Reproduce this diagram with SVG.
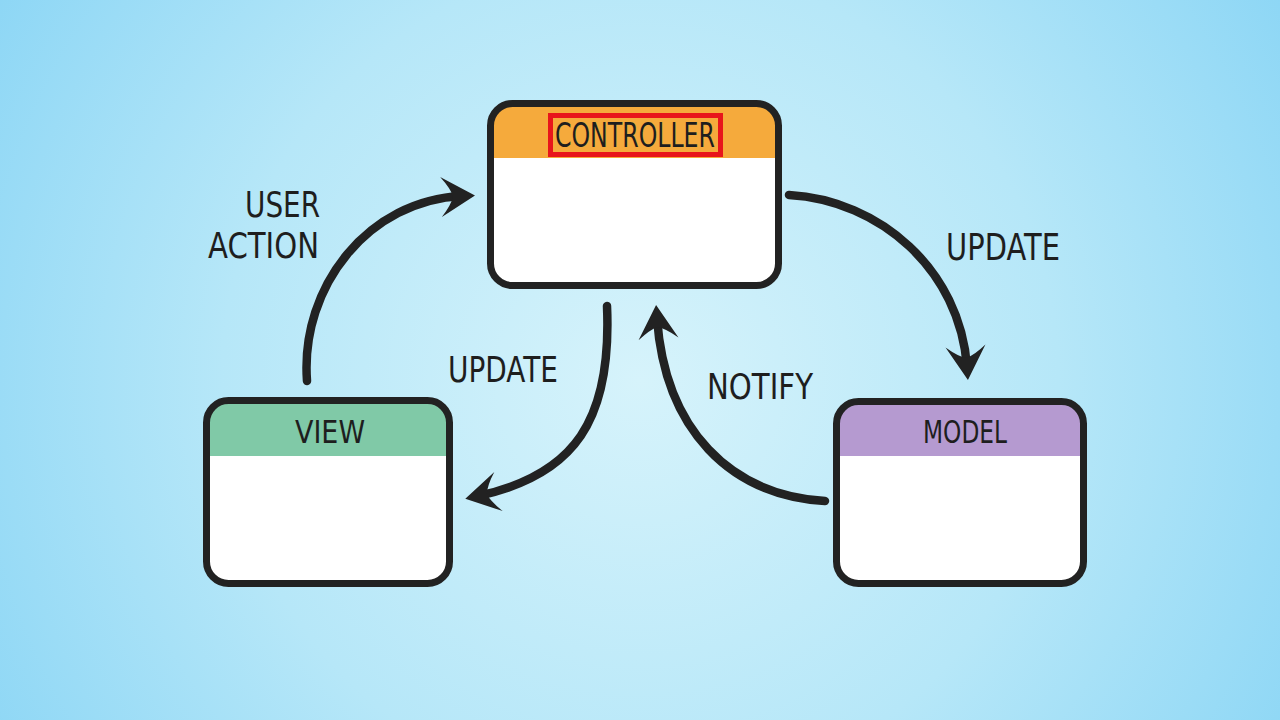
<svg xmlns="http://www.w3.org/2000/svg" width="1280" height="720" viewBox="0 0 1280 720">
  <defs>
    <radialGradient id="bg" cx="640" cy="380" r="760" gradientUnits="userSpaceOnUse">
      <stop offset="0" stop-color="#d6f3fb"/>
      <stop offset="0.55" stop-color="#b6e7f8"/>
      <stop offset="1" stop-color="#8cd6f5"/>
    </radialGradient>
    <marker id="arrow" markerUnits="userSpaceOnUse" viewBox="-24 -22 38 44" refX="0" refY="0" markerWidth="38" markerHeight="44" orient="auto" overflow="visible">
      <path d="M13,0 L-21,-20 Q-11,-8 -9,0 Q-11,8 -21,20 Z" fill="#222"/>
    </marker>
    <clipPath id="clipC"><rect x="490.5" y="103.5" width="288" height="182" rx="22"/></clipPath>
    <clipPath id="clipV"><rect x="206.5" y="400.5" width="243" height="183" rx="22"/></clipPath>
    <clipPath id="clipM"><rect x="836.5" y="401.5" width="247" height="182" rx="22"/></clipPath>
  </defs>
  <style>
    .frame { fill: none; stroke: #222; stroke-width: 7; }
    .body { fill: #ffffff; }
    .lbl { font-family: "DejaVu Sans", "Liberation Sans", sans-serif; fill: #1e1e1e; }
    .conn { fill: none; stroke: #222; stroke-width: 8.5; stroke-linecap: round; marker-end: url(#arrow); }
  </style>
  <rect x="0" y="0" width="1280" height="720" fill="url(#bg)"/>

  <g id="controller">
    <rect class="body" x="490.5" y="103.5" width="288" height="182" rx="22"/>
    <rect x="480" y="95" width="310" height="63" fill="#f5aa3c" clip-path="url(#clipC)"/>
    <rect x="550.5" y="115.5" width="170" height="39" fill="#f5aa3c" stroke="#e8151b" stroke-width="5"/>
    <text class="lbl" x="635" y="147" font-size="33" text-anchor="middle" textLength="160" lengthAdjust="spacingAndGlyphs">CONTROLLER</text>
    <rect class="frame" x="490.5" y="103.5" width="288" height="182" rx="22"/>
  </g>

  <g id="view">
    <rect class="body" x="206.5" y="400.5" width="243" height="183" rx="22"/>
    <rect x="200" y="395" width="260" height="61" fill="#80c9a7" clip-path="url(#clipV)"/>
    <text class="lbl" x="330" y="443" font-size="32" text-anchor="middle" textLength="70" lengthAdjust="spacingAndGlyphs">VIEW</text>
    <rect class="frame" x="206.5" y="400.5" width="243" height="183" rx="22"/>
  </g>

  <g id="model">
    <rect class="body" x="836.5" y="401.5" width="247" height="182" rx="22"/>
    <rect x="830" y="395" width="260" height="61" fill="#b59ad0" clip-path="url(#clipM)"/>
    <text class="lbl" x="965" y="443" font-size="32" text-anchor="middle" textLength="84" lengthAdjust="spacingAndGlyphs">MODEL</text>
    <rect class="frame" x="836.5" y="401.5" width="247" height="182" rx="22"/>
  </g>

  <g id="connectors">
    <path class="conn" d="M307,381 C300,285 370,200 462,196"/>
    <path class="conn" d="M607,306 C612,420 575,475 478,496"/>
    <path class="conn" d="M789,195 C880,200 960,270 967,367"/>
    <path class="conn" d="M825,501 C730,495 665,430 657,318"/>
  </g>

  <g id="labels">
    <text class="lbl" x="320" y="217" font-size="35" text-anchor="end" textLength="75" lengthAdjust="spacingAndGlyphs">USER</text>
    <text class="lbl" x="319" y="258" font-size="35" text-anchor="end" textLength="111" lengthAdjust="spacingAndGlyphs">ACTION</text>
    <text class="lbl" x="448" y="382" font-size="36" textLength="110" lengthAdjust="spacingAndGlyphs">UPDATE</text>
    <text class="lbl" x="946" y="260" font-size="37" textLength="114" lengthAdjust="spacingAndGlyphs">UPDATE</text>
    <text class="lbl" x="707" y="399" font-size="36" textLength="106" lengthAdjust="spacingAndGlyphs">NOTIFY</text>
  </g>
</svg>
